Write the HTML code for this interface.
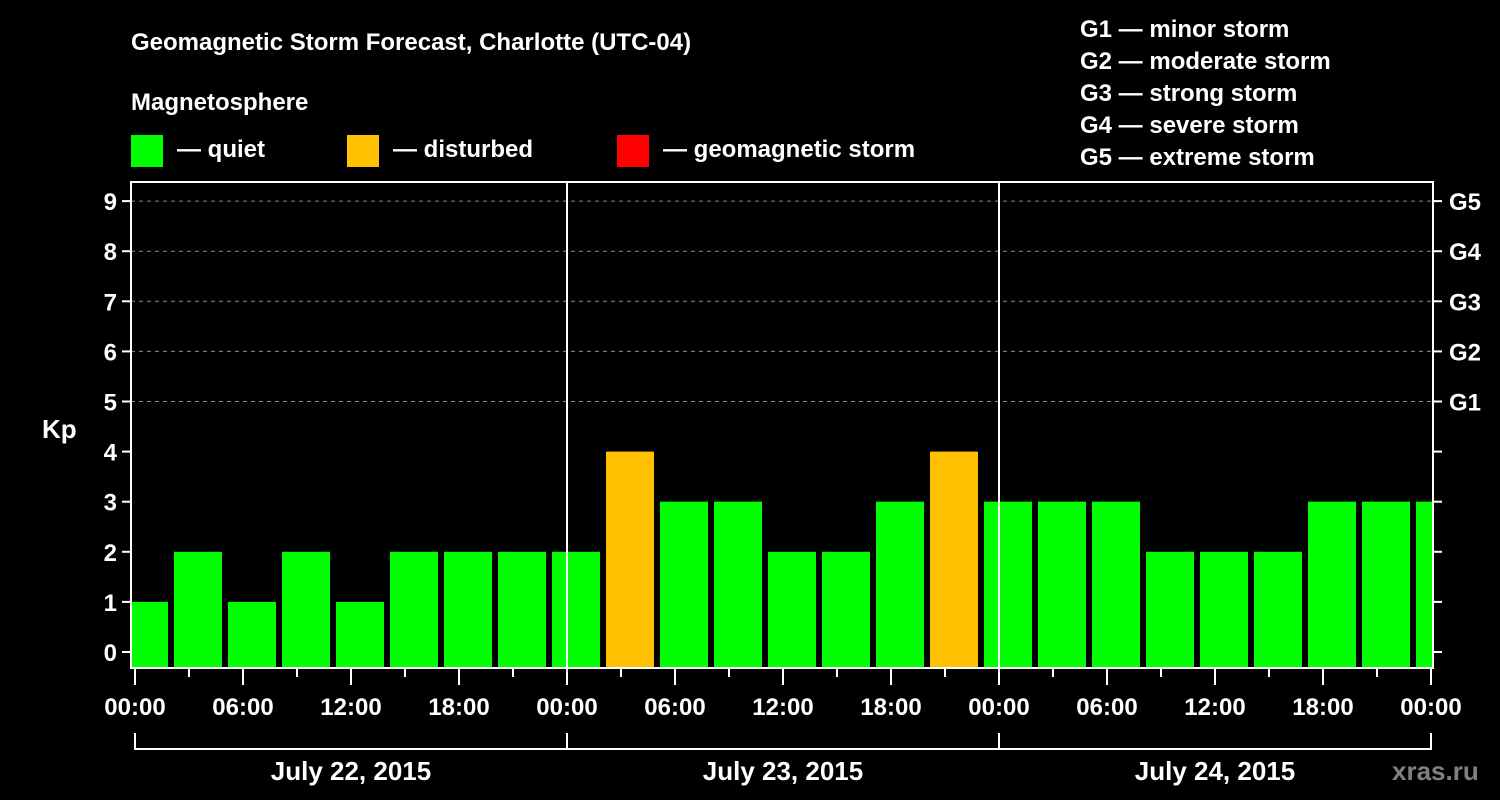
<!DOCTYPE html>
<html><head><meta charset="utf-8">
<style>
html,body{margin:0;padding:0;background:#000;width:1500px;height:800px;overflow:hidden}
text{font-family:"Liberation Sans",Arial,sans-serif;font-weight:bold;fill:#fff}
</style></head>
<body>
<svg id="chart" width="1500" height="800" xmlns="http://www.w3.org/2000/svg">
<rect width="1500" height="800" fill="#000"/>
<text x="131" y="50" font-size="24">Geomagnetic Storm Forecast, Charlotte (UTC-04)</text>
<text x="131" y="110" font-size="24">Magnetosphere</text>
<g><rect x="131" y="135" width="32" height="32" fill="#00ff00"/><text x="177" y="157" font-size="24">— quiet</text></g>
<g><rect x="347" y="135" width="32" height="32" fill="#ffc000"/><text x="393" y="157" font-size="24">— disturbed</text></g>
<g><rect x="617" y="135" width="32" height="32" fill="#ff0000"/><text x="663" y="157" font-size="24">— geomagnetic storm</text></g>
<g font-size="24">
<text x="1080" y="37">G1 — minor storm</text>
<text x="1080" y="69">G2 — moderate storm</text>
<text x="1080" y="101">G3 — strong storm</text>
<text x="1080" y="133">G4 — severe storm</text>
<text x="1080" y="165">G5 — extreme storm</text>
</g>
<text x="42" y="438" font-size="26">Kp</text>
<text x="1392" y="780" font-size="26" style="fill:#808080">xras.ru</text>
<g id="plot"></g>
</svg>
<script>
const kpValues = [1,2,1,2,1,2,2,2,2, 4,3,3,2,2,3,4, 3,3,3,2,2,2,3,3,3];
const barStartHour = 0.5;
const barStepHours = 3;
const dayLabels = ["July 22, 2015","July 23, 2015","July 24, 2015"];
const hourLabels = ["00:00","06:00","12:00","18:00"];
const gLabels = ["G1","G2","G3","G4","G5"];
const kpTicks = [0,1,2,3,4,5,6,7,8,9];

const NS="http://www.w3.org/2000/svg";
const plot=document.getElementById('plot');
const L=131,R=1433,T=182,B=668,X0=135,PXH=18;
const xs=h=>X0+h*PXH;
const ys=v=>652-v*50.1;
function mk(tag,attrs,parent){const e=document.createElementNS(NS,tag);for(const k in attrs)e.setAttribute(k,attrs[k]);(parent||plot).appendChild(e);return e;}

const clip=mk('clipPath',{id:'pc'});mk('rect',{x:L+1,y:T,width:R-L-2,height:B-T},clip);
// grid
for(let v=5;v<=9;v++){const g=mk('line',{x1:L,x2:R,y1:ys(v),y2:ys(v),stroke:'#888','stroke-dasharray':'4,4','stroke-width':1});

}
// bars
const bars=mk('g',{'clip-path':'url(#pc)'});
kpValues.forEach((v,i)=>{const c=barStartHour+i*barStepHours;const x=xs(c)-24;
const col=v>=5?'#ff0000':(v>=4?'#ffc000':'#00ff00');
const r=mk('rect',{x:x,y:ys(v),width:48,height:B-1-ys(v),fill:col},bars);

});
// day separators
for(let d=1;d<dayLabels.length;d++){const l=mk('line',{x1:xs(24*d),x2:xs(24*d),y1:T,y2:B,stroke:'#fff','stroke-width':2});

}
// frame
const fr=mk('rect',{x:L,y:T,width:R-L,height:B-T,fill:'none',stroke:'#fff','stroke-width':2});


// y ticks
kpTicks.forEach(v=>{mk('line',{x1:L-9,x2:L,y1:ys(v),y2:ys(v),stroke:'#fff','stroke-width':2});
mk('line',{x1:R,x2:R+9,y1:ys(v),y2:ys(v),stroke:'#fff','stroke-width':2});
const t=mk('text',{x:L-14,y:ys(v)+9,'font-size':24,'text-anchor':'end'});t.textContent=v;

});
gLabels.forEach((g,i)=>{const t=mk('text',{x:1449,y:ys(5+i)+9,'font-size':24});t.textContent=g;

});
// x ticks
const totalH=24*dayLabels.length;
for(let h=0;h<=totalH;h+=3){const major=h%6===0;
mk('line',{x1:xs(h),x2:xs(h),y1:B,y2:B+(major?17:9),stroke:'#fff','stroke-width':2});
if(major){const t=mk('text',{x:xs(h),y:715,'font-size':24,'text-anchor':'middle'});t.textContent=hourLabels[(h/6)%4];

}}
// day bracket
mk('path',{d:`M${xs(0)} 733 V749 H${xs(totalH)} V733`,fill:'none',stroke:'#fff','stroke-width':2});
for(let d=1;d<dayLabels.length;d++)mk('line',{x1:xs(24*d),x2:xs(24*d),y1:733,y2:749,stroke:'#fff','stroke-width':2});
dayLabels.forEach((s,d)=>{const t=mk('text',{x:xs(24*d+12),y:780,'font-size':26,'text-anchor':'middle'});t.textContent=s;

});
</script>
</body></html>
